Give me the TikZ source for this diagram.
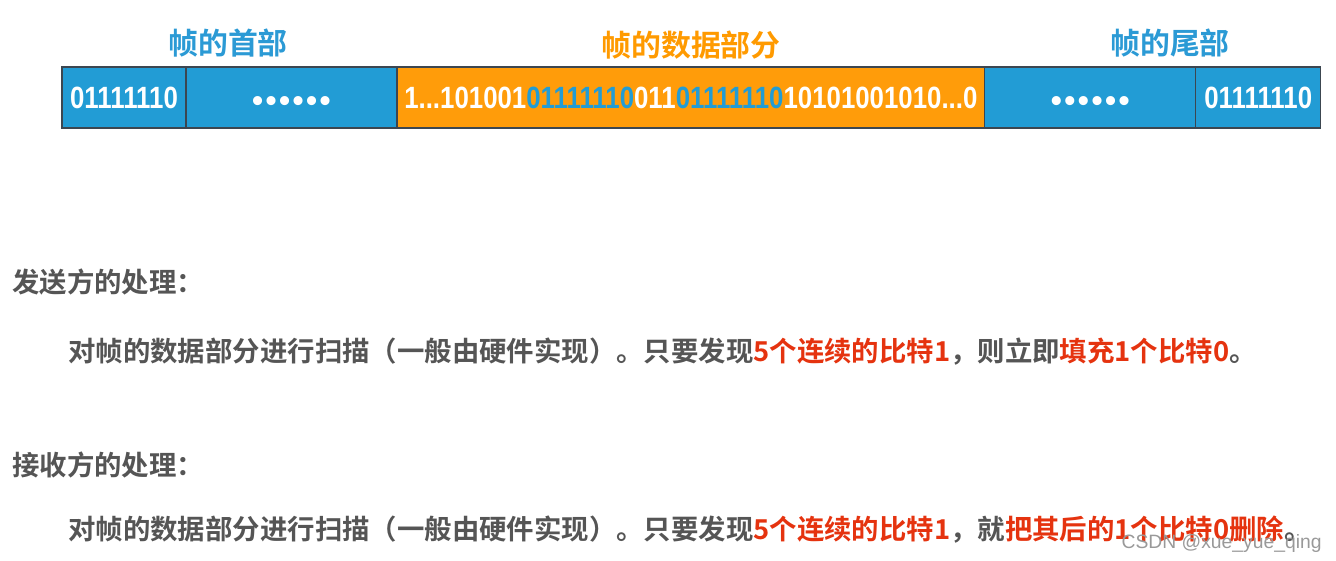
\documentclass[tikz,border=0pt]{standalone}
\usepackage{fontspec}
\usetikzlibrary{positioning}
\newfontfamily\cjk{Noto Sans CJK SC}[BoldFont={Noto Sans CJK SC Bold}]
\newfontfamily\bitfont{Liberation Sans}[FakeStretch=0.84]
\newfontfamily\markfont{Liberation Sans}
\definecolor{frameblue}{HTML}{229CD5}
\definecolor{headblue}{HTML}{2B9AD5}
\definecolor{dataorange}{HTML}{FF9C0A}
\definecolor{headorange}{HTML}{FF9A00}
\definecolor{cellline}{HTML}{3C4650}
\definecolor{textgray}{HTML}{555555}
\definecolor{hotred}{HTML}{E5330F}
\newcommand{\hot}[1]{\textcolor{hotred}{#1}}
\newcommand{\flag}[1]{\textcolor{frameblue}{#1}}
\newcommand{\dotgap}{\textbullet\kern1.4pt}
\newcommand{\skipdots}{\raisebox{-8pt}[0pt][0pt]{\markfont\fontsize{18}{18}\selectfont\dotgap\dotgap\dotgap\dotgap\dotgap\textbullet}}
\begin{document}
\begin{tikzpicture}[x=0.02cm, y=-0.02cm,
		cell/.style={draw=cellline, fill=frameblue, line width=0.7pt, outer sep=0pt, inner sep=0pt,
			minimum height=1.22cm, text=white, font=\bitfont\bfseries\fontsize{17.5}{18}\selectfont},
		part/.style={font=\cjk\bfseries\fontsize{17}{18}\selectfont},
		line/.style={anchor=west, inner sep=0pt, text=textgray, font=\cjk\bfseries\fontsize{15.6}{17}\selectfont}]
	\useasboundingbox (0,0) rectangle (1336,561);
	\node[cell, minimum width=2.48cm, anchor=west] (headflag) at (62,97.5) {01111110};
	\node[cell, minimum width=4.22cm, right=0pt of headflag] (headdots) {\skipdots};
	\node[cell, minimum width=11.76cm, fill=dataorange, right=0pt of headdots] (data) {1...101001\flag{01111110}011\flag{01111110}10101001010...0};
	\node[cell, minimum width=4.22cm, right=0pt of data] (taildots) {\skipdots};
	\node[cell, minimum width=2.5cm, right=0pt of taildots] (tailflag) {01111110};
	\node[part, text=headblue] (headlbl) at (228,43) {帧的首部};
	\node[part, text=headorange] (datalbl) at (691,45) {帧的数据部分};
	\node[part, text=headblue] (taillbl) at (1170,43) {帧的尾部};
	\node[line] (sendlbl) at (12,282) {发送方的处理：};
	\node[line] (sendrule) at (68,352) {对帧的数据部分进行扫描（一般由硬件实现）。只要发现\hot{5个连续的比特1}，则立即\hot{填充1个比特0}。};
	\node[line] (recvlbl) at (12,465) {接收方的处理：};
	\node[line] (recvrule) at (68,530) {对帧的数据部分进行扫描（一般由硬件实现）。只要发现\hot{5个连续的比特1}，就\hot{把其后的1个比特0删除}。};
	\node[anchor=east, inner sep=0pt, text=gray!80, font=\markfont\fontsize{11}{12}\selectfont] (mark) at (1322,543) {CSDN @xue\_yue\_qing};
\end{tikzpicture}
\end{document}
